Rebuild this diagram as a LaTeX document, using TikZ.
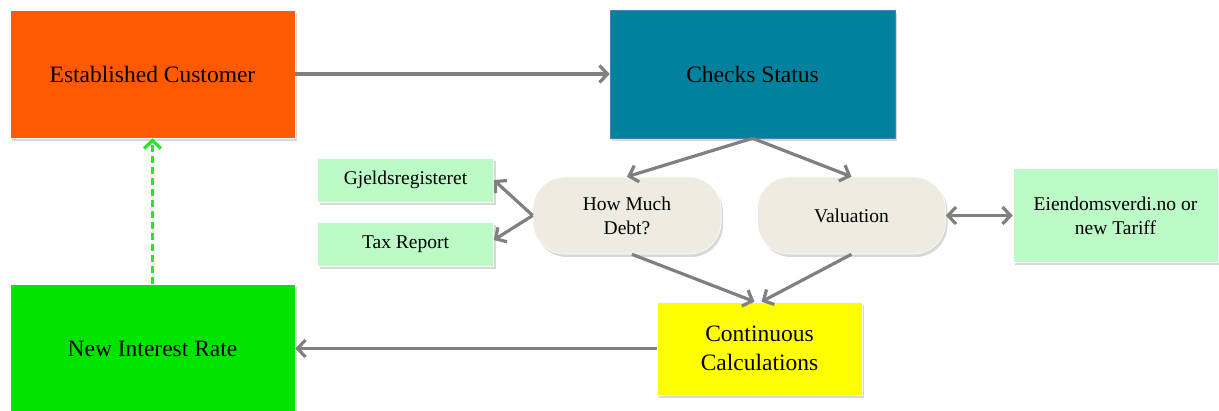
\documentclass[tikz,border=0pt]{standalone}
\usepackage{fontspec}
\setmainfont{Liberation Serif}
\usetikzlibrary{arrows.meta,shadows}
\definecolor{custorange}{HTML}{FF5A00}
\definecolor{statusteal}{HTML}{00829F}
\definecolor{statusedge}{HTML}{4A7EBB}
\definecolor{srcgreen}{HTML}{BCFAC6}
\definecolor{pillgrey}{HTML}{EEECE1}
\definecolor{calcyellow}{HTML}{FFFF00}
\definecolor{rategreen}{HTML}{00E400}
\definecolor{linkgrey}{HTML}{808080}
\begin{document}
\begin{tikzpicture}[x=1pt,y=1pt,
    box/.style={rectangle, draw=white, line width=0.6pt, align=center, inner sep=2pt,
      drop shadow={shadow xshift=2pt, shadow yshift=-3pt, fill=black!30}},
    bigbox/.style={box, minimum width=285pt, minimum height=128pt, font=\fontsize{23.5}{28}\selectfont},
    srcbox/.style={box, fill=srcgreen, font=\fontsize{19.5}{24}\selectfont},
    pill/.style={box, rounded corners=32pt, fill=pillgrey, minimum width=188pt, minimum height=77pt,
      font=\fontsize{19.5}{24}\selectfont},
    link/.style={draw=linkgrey, line width=3.2pt, -{Straight Barb[length=8pt,width=17pt]}},
    both/.style={link, {Straight Barb[length=8pt,width=17pt]}-{Straight Barb[length=8pt,width=17pt]}}]
    \useasboundingbox (0,0) rectangle (1219,410);
    %main blocks
    \node[bigbox, fill=custorange] (cust) at (152.5,336) {Established Customer};
    \node[bigbox, fill=statusteal, draw=statusedge] (status) at (752.5,336) {Checks Status};
    \node[bigbox, fill=rategreen] (rate) at (152.5,61.5) {New Interest Rate};
    %checks
    \node[pill] (debt) at (627,194.5) {How Much\\Debt?};
    \node[pill] (valuation) at (851.5,194.5) {Valuation};
    %sources
    \node[srcbox, minimum width=176pt, minimum height=44pt] (gjeld) at (405.5,230) {Gjeldsregisteret};
    \node[srcbox, minimum width=176pt, minimum height=44pt] (tax) at (405.5,166) {Tax Report};
    \node[srcbox, minimum width=205pt, minimum height=94pt] (tariff) at (1115.5,194.5) {Eiendomsverdi.no or\\new Tariff};
    %calculations
    \node[box, fill=calcyellow, minimum width=205pt, minimum height=93pt, font=\fontsize{23.5}{29}\selectfont] (calc) at (759.5,61.5) {Continuous\\Calculations};
    %arrows
    \draw[link] (cust.east) -- (status.west);
    \draw[link] (status.south) -- (debt.north);
    \draw[link] (status.south) -- (valuation.north);
    \draw[link] (debt.west) -- (gjeld.east);
    \draw[link] (debt.west) -- ([yshift=4pt]tax.east);
    \draw[both] (valuation.east) -- (tariff.west);
    \draw[link] ([xshift=5pt]debt.south) -- ([xshift=-5pt]calc.north);
    \draw[link] (valuation.south) -- ([xshift=2pt]calc.north);
    \draw[link] (calc.west) -- (rate.east);
    \draw[link, draw=rategreen!85!white, dash pattern=on 7pt off 4pt] (rate.north) -- (cust.south);
\end{tikzpicture}
\end{document}
